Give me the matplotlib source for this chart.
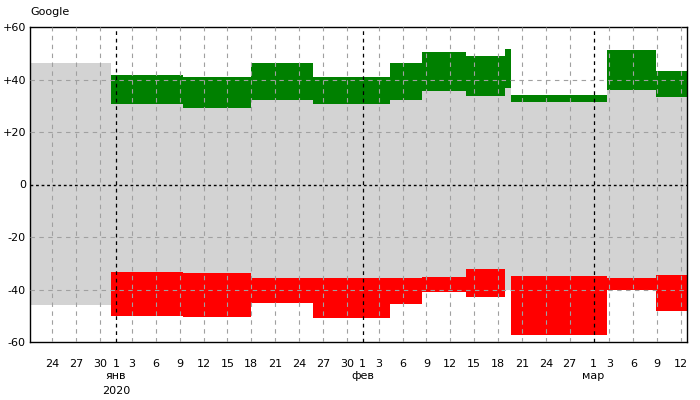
import matplotlib
matplotlib.use("Agg")
import matplotlib.pyplot as plt
import numpy as np

# segment boundaries in days from 2020-01-01
seg_start = [-0.6, 8.4, 17.0, 24.8, 34.4, 38.4, 44.0, 48.9, 49.6, 61.7, 67.8]
seg_end_last = 72.7
green_top = [41.8, 41.0, 46.3, 41.0, 46.3, 50.5, 49.0, 51.6, 34.2, 51.3, 43.3]
green_bot = [30.8, 29.2, 32.3, 30.8, 32.3, 35.7, 33.8, 36.8, 31.3, 36.1, 33.4]
red_top = [-33.2, -33.6, -35.5, -35.8, -35.5, -35.1, -32.1, -40.0, -34.8, -35.5, -34.3]
red_bot = [-50.1, -50.4, -45.3, -50.8, -45.7, -41.1, -43.0, -40.0, -57.2, -40.0, -48.3]
pre_start = -10.8
pre_band = (-46.0, 46.1)

tick_days = [-8, -5, -2, 0, 2, 5, 8, 11, 14, 17, 20, 23, 26, 29, 31, 33, 36, 39, 42, 45, 48, 51, 54, 57, 60, 62, 65, 68, 71]
tick_labels = ["24", "27", "30", "1", "3", "6", "9", "12", "15", "18", "21", "24", "27", "30", "1", "3", "6", "9", "12", "15", "18", "21", "24", "27", "1", "3", "6", "9", "12"]
month_days = [0, 31, 60]
month_labels = ["янв\n2020", "фев", "мар"]
y_ticks = [60, 40, 20, 0, -20, -40, -60]
y_labels = ["+60", "+40", "+20", "0", "-20", "-40", "-60"]

fig = plt.figure(figsize=(7, 4), dpi=100)
ax = fig.add_axes([0.043, 0.145, 0.938, 0.7875])

edges = seg_start + [seg_end_last]
def step(vals):
    return np.array(vals + [vals[-1]])

x = np.array(edges)
ax.fill_between([pre_start, seg_start[0]], pre_band[0], pre_band[1], color="#d3d3d3", lw=0, zorder=1)
ax.fill_between(x, step(red_top), step(green_bot), step="post", color="#d3d3d3", lw=0, zorder=1)
ax.fill_between(x, step(green_bot), step(green_top), step="post", color="#008000", lw=0, zorder=2)
ax.fill_between(x, step(red_bot), step(red_top), step="post", color="#ff0000", lw=0, zorder=2)

for d in tick_days:
    if d in month_days:
        ax.axvline(d, color="black", ls=(0, (3, 3)), lw=0.9, zorder=3)
    else:
        ax.axvline(d, color="#a0a0a0", ls=(0, (4, 4)), lw=0.8, zorder=3)
for yv in y_ticks:
    if yv == 0:
        ax.axhline(0, color="black", ls=(0, (2, 2)), lw=1.0, zorder=3)
    elif abs(yv) != 60:
        ax.axhline(yv, color="#a0a0a0", ls=(0, (4, 4)), lw=0.8, zorder=3)

ax.set_xlim(pre_start, seg_end_last - 1.0)
ax.set_ylim(-60, 60)
ax.set_xticks(tick_days)
ax.set_xticklabels(tick_labels, fontsize=8)
ax.set_yticks(y_ticks)
ax.set_yticklabels(y_labels, fontsize=8)
ax.tick_params(length=0, pad=12, axis="x")
ax.tick_params(length=0, pad=3, axis="y")
for d, lab in zip(month_days, month_labels):
    ax.text(d, -60, lab, transform=ax.transData, ha="center", va="top", fontsize=8,
            linespacing=1.6).set_y(-60)
for t in ax.texts:
    t.set_position((t.get_position()[0], -71))
for s in ax.spines.values():
    s.set_linewidth(1.0)
fig.text(0.043, 0.97, "Google", fontsize=8, ha="left", va="center")
fig.savefig("out.png", dpi=100)
